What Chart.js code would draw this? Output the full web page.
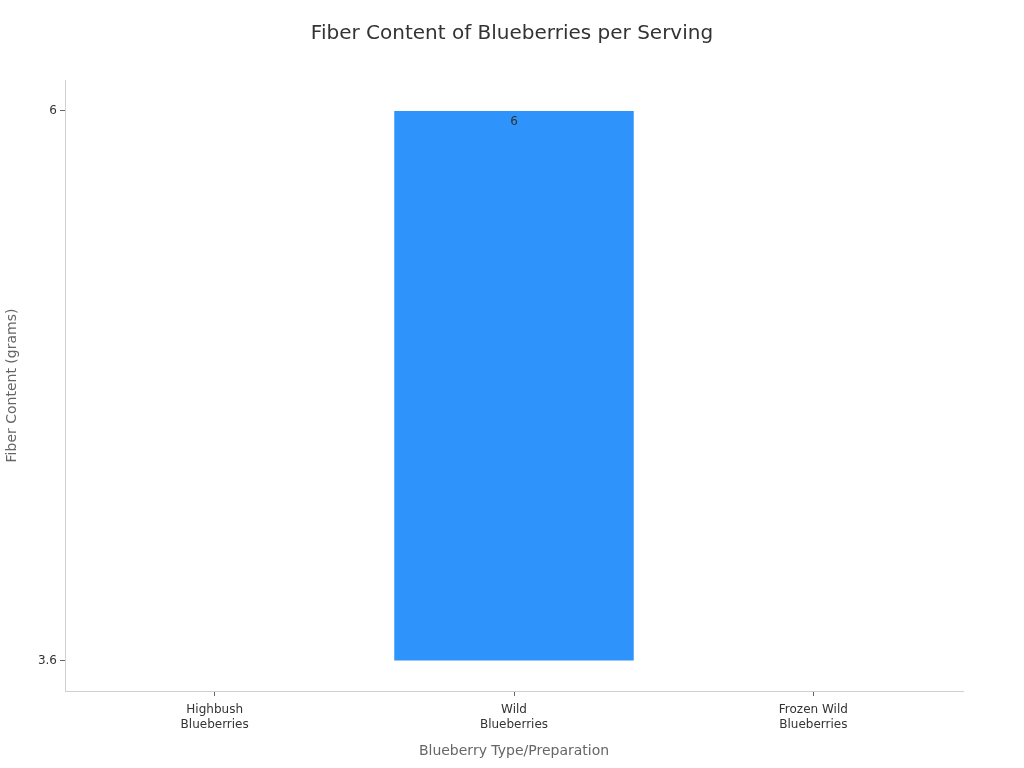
<!DOCTYPE html>
<html>
<head>
<meta charset="utf-8">
<script src="https://cdn.jsdelivr.net/npm/chart.js@4"></script>
<style>
html,body{margin:0;padding:0;background:#fff;}
#wrap{width:1024px;height:768px;position:relative;}
</style>
</head>
<body>
<div id="wrap"><canvas id="c" width="1024" height="768"></canvas></div>
<script>
const categories = [["Highbush","Blueberries"],["Wild","Blueberries"],["Frozen Wild","Blueberries"]];
const fiberValues = [3.6, 6, 3.6];
const yTickValues = [3.6, 6];
const chartTitle = "Fiber Content of Blueberries per Serving";
const xTitle = "Blueberry Type/Preparation";
const yTitle = "Fiber Content (grams)";

const yMinData = Math.min(...yTickValues);
const yMaxData = Math.max(...yTickValues);
const span = yMaxData - yMinData;

const labelPlugin = {
  id: 'barLabels',
  afterDatasetsDraw(chart) {
    const ctx = chart.ctx;
    const meta = chart.getDatasetMeta(0);
    ctx.save();
    ctx.font = '12px "DejaVu Sans"';
    ctx.fillStyle = '#333';
    ctx.textAlign = 'center';
    ctx.textBaseline = 'middle';
    meta.data.forEach((bar, i) => {
      const h = Math.abs(bar.base - bar.y);
      if (h < 1) return;
      ctx.fillText(String(fiberValues[i]), bar.x, bar.y + 11);
    });
    ctx.restore();
  }
};

const titlePlugin = {
  id: 'pageTitle',
  afterDraw(chart) {
    const ctx = chart.ctx;
    ctx.save();
    ctx.font = '20px "DejaVu Sans"';
    ctx.fillStyle = '#333';
    ctx.textAlign = 'center';
    ctx.textBaseline = 'middle';
    ctx.fillText(chartTitle, chart.width / 2, 34);
    ctx.restore();
  }
};

new Chart(document.getElementById('c'), {
  type: 'bar',
  data: {
    labels: categories,
    datasets: [{
      data: fiberValues,
      base: yMinData,
      backgroundColor: '#2e93fa',
      borderWidth: 0,
      barPercentage: 0.8,
      categoryPercentage: 1.0
    }]
  },
  options: {
    responsive: false,
    animation: false,
    devicePixelRatio: 1,
    layout: { padding: { left: 0, right: 61, top: 80, bottom: 4 } },
    plugins: {
      legend: { display: false },
      tooltip: { enabled: false },
      title: { display: false }
    },
    scales: {
      x: {
        offset: true,
        grid: { display: true, offset: false, drawOnChartArea: false, drawTicks: true, tickLength: 5, color: '#666' },
        border: { display: true, color: '#d0d0d0' },
        ticks: { color: '#333', font: { family: 'DejaVu Sans', size: 12 }, padding: 7, maxRotation: 0, autoSkip: false },
        title: { display: true, text: xTitle, color: '#666', font: { family: 'DejaVu Sans', size: 14 } },
        afterFit(s) { s.height = 73; }
      },
      y: {
        min: yMinData - span * 0.0546,
        max: yMaxData + span * 0.0563,
        afterBuildTicks(s) { s.ticks = yTickValues.map(v => ({ value: v })); },
        grid: { display: true, drawOnChartArea: false, drawTicks: true, tickLength: 5, color: '#666' },
        border: { display: true, color: '#d0d0d0' },
        ticks: { color: '#333', font: { family: 'DejaVu Sans', size: 12 }, padding: 3, callback: v => String(v) },
        title: { display: true, text: yTitle, color: '#666', font: { family: 'DejaVu Sans', size: 14 } },
        afterFit(s) { s.width = 65; }
      }
    }
  },
  plugins: [labelPlugin, titlePlugin]
});
</script>
</body>
</html>
